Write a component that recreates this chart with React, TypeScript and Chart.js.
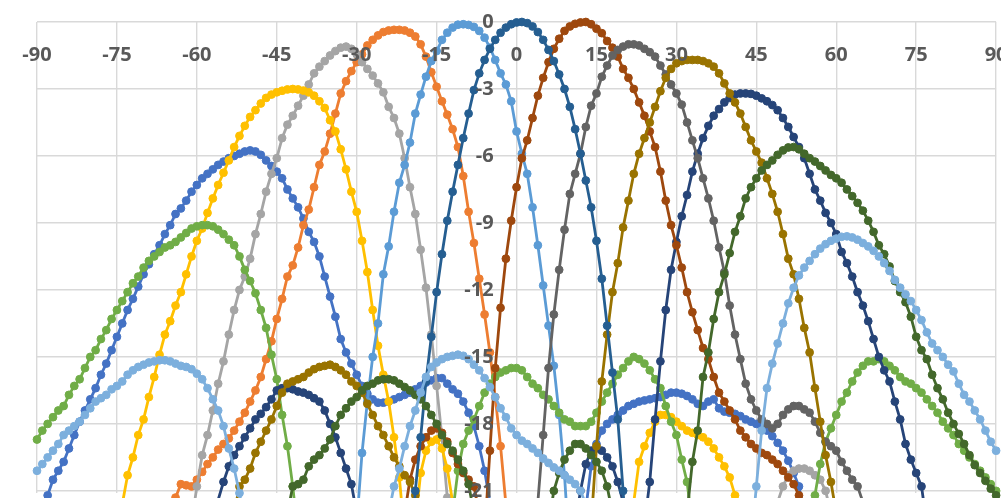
import React, { useEffect, useRef } from "react";
import { Chart, registerables } from "chart.js";

Chart.register(...registerables);

// A run is [first angle in degrees, values in dB at 1° steps]
type Run = [number, number[]];

const xTicks = [-90, -75, -60, -45, -30, -15, 0, 15, 30, 45, 60, 75, 90];
const yTicks = [0, -3, -6, -9, -12, -15, -18, -21];

const beamM51: Run[] = [
  [-90, [-22.8, -22.0, -21.2, -20.5, -20.1, -19.7, -19.1, -18.5, -17.9, -17.4, -16.9, -16.4, -15.8, -15.3, -14.7, -14.1, -13.5, -12.9, -12.4, -11.85, -11.3, -10.85, -10.4, -10.0, -9.5, -9.1, -8.6, -8.35, -8.0, -7.6, -7.3, -7.0, -6.8, -6.6, -6.4, -6.25, -6.1, -6.0, -5.9, -5.8, -5.75, -5.8, -5.95, -6.2, -6.45, -6.7, -7.0, -7.5, -7.9, -8.3, -8.8, -9.4, -9.85, -10.5, -11.4, -12.3, -13.2, -14.2, -14.8, -15.3, -15.8, -16.3, -16.65, -16.9, -17.05, -17.05, -17.0, -16.9, -16.8, -16.7, -16.6, -16.45, -16.3, -16.15, -16.05, -15.95, -15.95, -16.2, -16.45, -16.65, -17.0, -17.5, -18.1, -19.0, -20.1, -21.5, -23.0]],
  [13, [-21.8, -19.9, -18.9, -18.3, -18.0, -17.8, -17.6, -17.4, -17.2, -17.1, -17.0, -16.95, -16.9, -16.85, -16.8, -16.7, -16.6, -16.6, -16.65, -16.75, -16.9, -17.1, -17.2, -17.0, -16.9, -17.3, -17.45, -17.5, -17.55, -17.65, -17.8, -17.9, -18.0, -18.15, -18.3, -18.55, -18.85, -19.2, -19.65, -20.2, -20.8, -22.0]],
];

const beamM22: Run[] = [
  [-65, [-22.5, -21.3, -20.7, -20.75, -20.8, -20.5, -20.15, -19.8, -19.5, -19.15, -18.9, -18.65, -18.3, -17.9, -17.5, -17.0, -16.5, -15.9, -15.1, -14.3, -13.3, -12.4, -11.4, -10.9, -10.1, -9.1, -8.4, -7.4, -6.4, -5.8, -5.0, -4.1, -3.2, -2.65, -2.2, -1.8, -1.45, -1.05, -0.8, -0.6, -0.45, -0.38, -0.35, -0.35, -0.38, -0.48, -0.65, -1.0, -1.55, -2.25, -2.9, -3.55, -4.15, -4.8, -5.6, -6.9, -8.5, -9.9, -11.5, -13.1, -14.8, -16.8, -19.0, -21.6, -25.0]],
];

const beamM33: Run[] = [
  [-61, [-22.5, -20.8, -19.4, -18.5, -17.4, -16.2, -15.2, -14.0, -12.9, -12.0, -11.4, -10.6, -9.5, -8.6, -7.6, -6.8, -6.1, -5.2, -4.6, -4.2, -3.75, -3.3, -2.8, -2.3, -2.0, -1.75, -1.5, -1.3, -1.15, -1.1, -1.2, -1.45, -1.8, -2.1, -2.4, -2.75, -3.15, -3.8, -4.3, -5.0, -6.1, -7.4, -8.6, -10.2, -11.9, -14.0, -16.3, -18.6, -21.3, -25.0]],
  [49, [-21.5, -20.8, -20.3, -20.1, -20.0, -20.0, -20.1, -20.3, -20.5, -21.0, -22.0]],
];

const beamM42: Run[] = [
  [-75, [-23.0, -21.6, -20.3, -19.5, -18.5, -17.8, -16.8, -15.9, -14.9, -14.0, -13.4, -12.7, -12.1, -11.3, -10.5, -9.8, -9.25, -8.55, -7.9, -7.3, -6.75, -6.2, -5.6, -5.1, -4.65, -4.25, -3.95, -3.65, -3.4, -3.25, -3.15, -3.08, -3.02, -3.0, -3.02, -3.07, -3.15, -3.3, -3.55, -3.85, -4.4, -4.9, -5.7, -6.6, -7.6, -8.5, -9.8, -11.2, -12.9, -14.5, -15.8, -17.0, -18.6, -20.4, -23.0]],
  [-19, [-22.5, -20.2, -19.2, -18.8, -18.7, -19.1, -20.0, -21.5, -23.0]],
  [22, [-21.5, -19.7, -19.0, -18.4, -17.9, -17.6, -17.6, -17.7, -17.9, -18.1, -18.3, -18.4, -18.5, -18.6, -18.8, -19.1, -19.5, -19.9, -20.4, -21.2, -22.5]],
];

const beamM11: Run[] = [
  [-30, [-22.5, -19.3, -17.0, -15.0, -13.5, -11.3, -10.05, -8.5, -7.2, -6.4, -5.4, -4.1, -3.25, -2.45, -1.75, -1.3, -0.8, -0.48, -0.25, -0.12, -0.1, -0.13, -0.22, -0.4, -0.7, -1.15, -1.7, -2.3, -2.8, -3.55, -4.9, -5.9, -6.8, -8.3, -10.0, -11.8, -13.6, -15.4, -17.6, -20.3, -24.0]],
];

const beamM58: Run[] = [
  [-90, [-18.7, -18.3, -18.0, -17.7, -17.4, -17.2, -16.7, -16.3, -16.0, -15.5, -15.0, -14.7, -14.2, -13.8, -13.3, -12.9, -12.5, -12.1, -11.7, -11.4, -11.0, -10.7, -10.5, -10.3, -10.1, -10.0, -9.85, -9.65, -9.45, -9.25, -9.15, -9.1, -9.1, -9.15, -9.3, -9.5, -9.75, -10.0, -10.5, -11.1, -11.6, -12.15, -12.9, -13.7, -14.9, -16.0, -17.6, -19.0, -20.8, -23.0]],
  [-12, [-22.0, -20.1, -18.9, -18.3, -17.8, -17.2, -16.6, -16.2, -15.9, -15.7, -15.6, -15.5, -15.5, -15.6, -15.9, -16.2, -16.4, -16.7, -16.9, -17.2, -17.5, -17.8, -17.9, -18.1, -18.1, -18.1, -17.9, -17.5, -17.0, -16.6, -16.2, -15.8, -15.5, -15.2, -15.0, -15.1, -15.3, -15.6, -16.0, -16.4, -17.2, -17.9, -18.5, -19.6, -20.6, -22.5]],
  [55, [-23.0, -21.2, -19.8, -18.8, -18.2, -17.6, -17.0, -16.6, -16.1, -15.7, -15.4, -15.2, -15.2, -15.1, -15.2, -15.4, -15.6, -15.9, -16.1, -16.2, -16.4, -16.6, -16.9, -17.2, -17.5, -17.9, -18.2, -18.5, -18.9, -19.2, -19.5, -19.8, -20.1, -20.4, -20.7, -21.0]],
];

const beamP42: Run[] = [
  [-57, [-22.5, -21.4, -20.6, -19.9, -19.4, -19.0, -18.6, -18.2, -17.8, -17.55, -17.25, -16.9, -16.5, -16.4, -16.4, -16.45, -16.55, -16.6, -16.7, -16.85, -17.0, -17.4, -18.0, -18.6, -19.3, -20.0, -20.7, -22.0]],
  [11, [-22.5, -21.0, -19.8, -19.2, -19.1, -19.2, -19.5, -19.9, -20.6, -21.5, -23.0]],
  [24, [-22.5, -20.6, -17.8, -15.2, -12.9, -11.1, -9.85, -8.7, -7.75, -6.7, -5.9, -5.2, -4.65, -4.2, -3.9, -3.6, -3.4, -3.25, -3.2, -3.2, -3.22, -3.3, -3.42, -3.55, -3.72, -3.95, -4.3, -4.7, -5.15, -5.6, -6.1, -6.8, -7.5, -8.0, -8.55, -9.0, -9.5, -10.3, -10.8, -11.4, -12.1, -12.7, -13.4, -14.2, -15.0, -15.6, -16.1, -17.0, -17.8, -18.9, -19.6, -20.2, -20.8, -22.5]],
];

const beamP11: Run[] = [
  [-21, [-22.0, -20.5, -19.6, -19.0, -18.6, -18.3, -18.2, -18.4, -18.8, -19.3, -19.8, -20.2, -20.5, -20.8, -22.0, -23.0, -19.2, -15.5, -12.8, -10.6, -8.9, -7.4, -6.1, -5.3, -4.3, -3.3, -2.5, -1.8, -1.2, -0.75, -0.4, -0.2, -0.08, -0.02, 0, -0.1, -0.3, -0.5, -0.85, -1.15, -1.55, -2.1, -2.5, -3.0, -3.6, -4.2, -4.9, -5.6, -6.7, -8.0, -9.1, -10.0, -11.0, -12.1, -13.0, -13.8, -14.6, -15.1, -15.9, -16.6, -17.0, -17.4, -17.8, -18.3, -18.6, -18.9, -19.1, -19.3, -19.4, -19.6, -19.8, -20.1, -20.4, -20.7, -21.2, -22.0]],
];

const beamP22: Run[] = [
  [4, [-21.5, -18.5, -15.5, -13.1, -11.1, -9.3, -7.7, -6.8, -5.9, -4.7, -3.75, -3.2, -2.45, -1.95, -1.5, -1.25, -1.1, -1.0, -1.0, -1.05, -1.2, -1.35, -1.55, -1.95, -2.35, -2.8, -3.2, -3.7, -4.5, -5.3, -6.1, -7.0, -7.9, -8.9, -10.1, -11.2, -12.7, -14.0, -15.1, -16.2, -16.9, -17.4, -17.8, -18.0, -18.2, -18.0, -17.6, -17.35, -17.2, -17.2, -17.35, -17.5, -17.9, -18.4, -18.8, -19.0, -19.2, -19.7, -20.1, -20.5, -20.8, -21.5]],
];

const beamP33: Run[] = [
  [-53, [-22.0, -20.8, -20.5, -20.0, -19.3, -18.8, -18.3, -17.8, -17.2, -16.6, -16.2, -16.1, -16.0, -15.9, -15.7, -15.55, -15.45, -15.4, -15.35, -15.45, -15.6, -15.8, -16.1, -16.3, -16.6, -17.1, -17.6, -18.1, -18.5, -19.0, -19.5, -19.9, -20.3, -20.6, -21.2, -22.0]],
  [14, [-22.5, -19.0, -16.1, -14.0, -12.1, -10.8, -9.2, -8.0, -6.8, -5.9, -5.2, -4.5, -3.8, -3.1, -2.5, -2.1, -1.85, -1.75, -1.7, -1.7, -1.7, -1.75, -1.85, -2.0, -2.3, -2.75, -3.2, -3.6, -4.1, -4.7, -5.3, -5.8, -6.3, -7.0, -7.7, -8.5, -9.5, -10.6, -11.3, -12.4, -13.7, -14.8, -16.4, -17.9, -19.4, -20.6, -22.0]],
];

const beam0: Run[] = [
  [-20, [-24.0, -21.0, -18.6, -16.1, -14.1, -12.1, -10.4, -8.9, -7.6, -6.4, -5.2, -4.1, -3.05, -2.3, -1.7, -1.2, -0.8, -0.48, -0.25, -0.1, -0.02, 0, -0.05, -0.2, -0.45, -0.8, -1.25, -1.75, -2.35, -3.0, -3.8, -4.8, -5.9, -7.1, -8.3, -9.8, -11.5, -13.6, -15.7, -17.8, -21.0, -25.0]],
];

const beamP51: Run[] = [
  [-43, [-22.0, -20.8, -20.7, -20.5, -19.9, -19.6, -19.4, -19.1, -18.7, -18.1, -17.6, -17.3, -17.0, -16.8, -16.5, -16.3, -16.2, -16.05, -16.0, -16.0, -16.05, -16.2, -16.35, -16.5, -16.7, -16.9, -17.2, -17.6, -18.0, -18.5, -18.9, -19.2, -19.6, -20.1, -20.7, -22.0]],
  [6, [-22.5, -21.0, -20.2, -19.6, -19.2, -18.9, -18.9, -19.1, -19.4, -19.7, -20.1, -20.8, -22.0]],
  [31, [-25.0, -22.0, -19.7, -18.3, -15.9, -14.8, -13.3, -12.1, -11.3, -10.35, -9.4, -8.7, -7.9, -7.4, -7.0, -6.65, -6.4, -6.2, -5.95, -5.75, -5.62, -5.6, -5.7, -5.9, -6.1, -6.25, -6.45, -6.65, -6.85, -7.0, -7.2, -7.5, -7.8, -8.1, -8.45, -8.9, -9.4, -10.0, -10.4, -10.95, -11.6, -12.1, -12.55, -13.2, -14.1, -14.7, -15.1, -15.8, -16.4, -16.9, -17.5, -18.0, -18.45, -18.9, -19.4, -19.85, -20.2, -20.55, -20.9, -21.2]],
];

const beamP62: Run[] = [
  [-90, [-20.1, -19.8, -19.5, -19.2, -18.9, -18.5, -18.3, -18.1, -17.9, -17.6, -17.3, -17.0, -16.85, -16.7, -16.45, -16.3, -16.1, -15.8, -15.6, -15.45, -15.35, -15.25, -15.2, -15.15, -15.15, -15.2, -15.3, -15.4, -15.45, -15.55, -15.75, -16.0, -16.4, -16.9, -17.4, -18.1, -19.1, -20.0, -21.1, -22.5]],
  [-24, [-22.0, -20.8, -20.0, -19.0, -18.1, -17.4, -16.6, -15.9, -15.45, -15.25, -15.1, -15.0, -14.95, -14.9, -14.95, -15.1, -15.35, -15.6, -15.95, -16.35, -16.8, -17.3, -17.7, -18.2, -18.5, -18.75, -18.9, -19.1, -19.3, -19.55, -19.75, -19.95, -20.1, -20.3, -20.5, -20.7, -21.0, -21.6, -22.5]],
  [44, [-23.5, -20.8, -18.3, -16.4, -15.3, -14.4, -13.5, -12.6, -11.9, -11.35, -11.0, -10.7, -10.4, -10.15, -9.95, -9.8, -9.7, -9.62, -9.6, -9.65, -9.75, -9.9, -10.05, -10.25, -10.5, -10.8, -11.15, -11.55, -11.9, -12.2, -12.5, -12.9, -13.35, -13.9, -14.4, -14.7, -15.0, -15.35, -15.65, -16.2, -16.7, -17.0, -17.4, -17.8, -18.3, -18.8, -19.2]],
];

// Excel series order (first = drawn at the bottom)
const series: { name: string; color: string; runs: Run[] }[] = [
  { name: "-51°", color: "#4472C4", runs: beamM51 },
  { name: "-22°", color: "#ED7D31", runs: beamM22 },
  { name: "-33°", color: "#A5A5A5", runs: beamM33 },
  { name: "-42°", color: "#FFC000", runs: beamM42 },
  { name: "-11°", color: "#5B9BD5", runs: beamM11 },
  { name: "-58°", color: "#70AD47", runs: beamM58 },
  { name: "42°", color: "#264478", runs: beamP42 },
  { name: "11°", color: "#9E480E", runs: beamP11 },
  { name: "22°", color: "#636363", runs: beamP22 },
  { name: "33°", color: "#997300", runs: beamP33 },
  { name: "0°", color: "#255E91", runs: beam0 },
  { name: "51°", color: "#43682B", runs: beamP51 },
  { name: "62°", color: "#7CAFDD", runs: beamP62 },
];

function toPoints(runs: Run[]) {
  const pts: { x: number; y: number | null }[] = [];
  runs.forEach(([start, vals], k) => {
    if (k > 0) pts.push({ x: start - 0.5, y: null });
    vals.forEach((v, i) => pts.push({ x: start + i, y: v }));
  });
  return pts;
}

const zeroPad = (scale: any) => {
  scale.paddingLeft = 0;
  scale.paddingRight = 0;
  scale.paddingTop = 0;
  scale.paddingBottom = 0;
};

export default function App() {
  const canvasRef = useRef<HTMLCanvasElement | null>(null);

  useEffect(() => {
    document.body.style.margin = "0";
    document.body.style.overflow = "hidden";
    const canvas = canvasRef.current;
    if (!canvas) return;

    const tickFont = { family: "'Open Sans', sans-serif", size: 20, weight: "bold" as const };
    const gridColor = "#D9D9D9";

    const datasets = series
      .slice()
      .reverse()
      .map((s) => ({
        label: s.name,
        data: toPoints(s.runs),
        borderColor: s.color,
        backgroundColor: s.color,
        pointBackgroundColor: s.color,
        pointBorderColor: s.color,
        pointRadius: 3.9,
        pointBorderWidth: 1,
        pointHoverRadius: 3.9,
        borderWidth: 2.8,
        tension: 0,
        spanGaps: false,
        clip: false as any,
      }));

    const chart = new Chart(canvas, {
      type: "line",
      data: { datasets },
      options: {
        animation: false,
        responsive: true,
        maintainAspectRatio: false,
        events: [],
        layout: { padding: { left: 37, top: 22, right: 3, bottom: 0 } },
        plugins: { legend: { display: false }, tooltip: { enabled: false } },
        scales: {
          x: {
            type: "linear",
            min: -90,
            max: 90,
            position: { y: 0 } as any,
            afterBuildTicks: (scale: any) => {
              scale.ticks = xTicks.map((v) => ({ value: v }));
            },
            afterFit: zeroPad,
            grid: { color: gridColor, lineWidth: 1.4, drawTicks: false },
            border: { display: false },
            ticks: {
              padding: 21,
              color: "#595959",
              font: tickFont,
              maxRotation: 0,
              autoSkip: false,
              z: 1,
            },
          },
          y: {
            type: "linear",
            min: -21.1,
            max: 0,
            position: { x: -4.3 } as any,
            afterBuildTicks: (scale: any) => {
              scale.ticks = yTicks.map((v) => ({ value: v }));
            },
            afterFit: zeroPad,
            grid: { color: gridColor, lineWidth: 1.4, drawTicks: false },
            border: { display: false },
            ticks: {
              color: "#595959",
              font: tickFont,
              autoSkip: false,
              z: 1,
            },
          },
        },
      },
    });

    return () => chart.destroy();
  }, []);

  return (
    <div style={{ position: "relative", width: 1001, height: 498 }}>
      <canvas ref={canvasRef} />
    </div>
  );
}
